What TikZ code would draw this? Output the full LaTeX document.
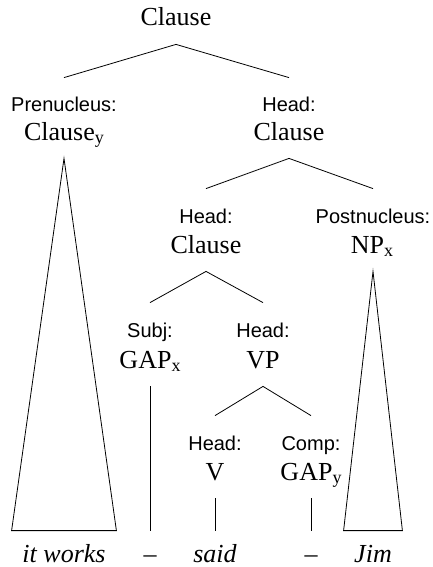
\documentclass[tikz,border=0pt]{standalone}
\usepackage{fontspec}
\setmainfont{Liberation Serif}
\setsansfont{Liberation Sans}

% small lowered index on a category
\newcommand{\gapidx}[1]{\raisebox{-3.5pt}{\fontsize{18}{18}\selectfont #1}}

\tikzset{
  lab/.style={font=\fontsize{20}{20}\sffamily, anchor=base, inner sep=0pt,
    text height=34pt, text depth=0pt},
  cat/.style={font=\fontsize{26}{26}\selectfont, anchor=base, inner sep=0pt,
    text height=18pt, text depth=18pt},
  word/.style={font=\fontsize{26}{26}\itshape, anchor=base, inner sep=0pt,
    text height=31pt, text depth=0pt},
}

\begin{document}
\begin{tikzpicture}[x=1pt, y=-1pt, line width=0.8pt]
  \useasboundingbox (0,0) rectangle (433,567);

  % Top clause
  \node[cat] (root) at (176,26) {Clause};

  \node[lab] (prel) at (64,112) {Prenucleus:};
  \node[cat] (pre) at (64,140) {Clause\gapidx{y}};
  \node[lab] (headl) at (289,112) {Head:};
  \node[cat] (head) at (289,140) {Clause};

  \draw (prel.north) -- (root.south) -- (headl.north);

  % Nucleus and postnucleus
  \node[lab] (nucl) at (206,223) {Head:};
  \node[cat] (nuc) at (206,253) {Clause};
  \node[lab] (postl) at (373,223) {Postnucleus:};
  \node[cat] (post) at (372,253) {NP\gapidx{x}};

  \draw (nucl.north) -- (head.south) -- (postl.north);

  % Subject and VP
  \node[lab] (subjl) at (150,337) {Subj:};
  \node[cat] (subj) at (150,368) {GAP\gapidx{x}};
  \node[lab] (vpl) at (263,337) {Head:};
  \node[cat] (vp) at (263,368) {VP};

  \draw (subjl.north) -- (nuc.south) -- (vpl.north);

  % Verb and complement
  \node[lab] (vl) at (215,450) {Head:};
  \node[cat] (v) at (215,480) {V};
  \node[lab] (compl) at (311,450) {Comp:};
  \node[cat] (comp) at (311,480) {GAP\gapidx{y}};

  \draw (vl.north) -- (vp.south) -- (compl.north);

  % Words
  \node[word, minimum width=104pt] (w1) at (64,562) {it works};
  \node[word] (w2) at (150,562) {--};
  \node[word] (w3) at (215,562) {said};
  \node[word] (w4) at (311,562) {--};
  \node[word, minimum width=58pt] (w5) at (373,562) {Jim};

  % Triangles and unary branches
  \draw (w1.north west) -- (pre.south) -- (w1.north east) -- cycle;
  \draw (w5.north west) -- (post.south -| w5.north) -- (w5.north east) -- cycle;
  \draw (subj.south) -- (w2.north);
  \draw (v.south) -- (w3.north);
  \draw (comp.south) -- (w4.north);
\end{tikzpicture}
\end{document}
